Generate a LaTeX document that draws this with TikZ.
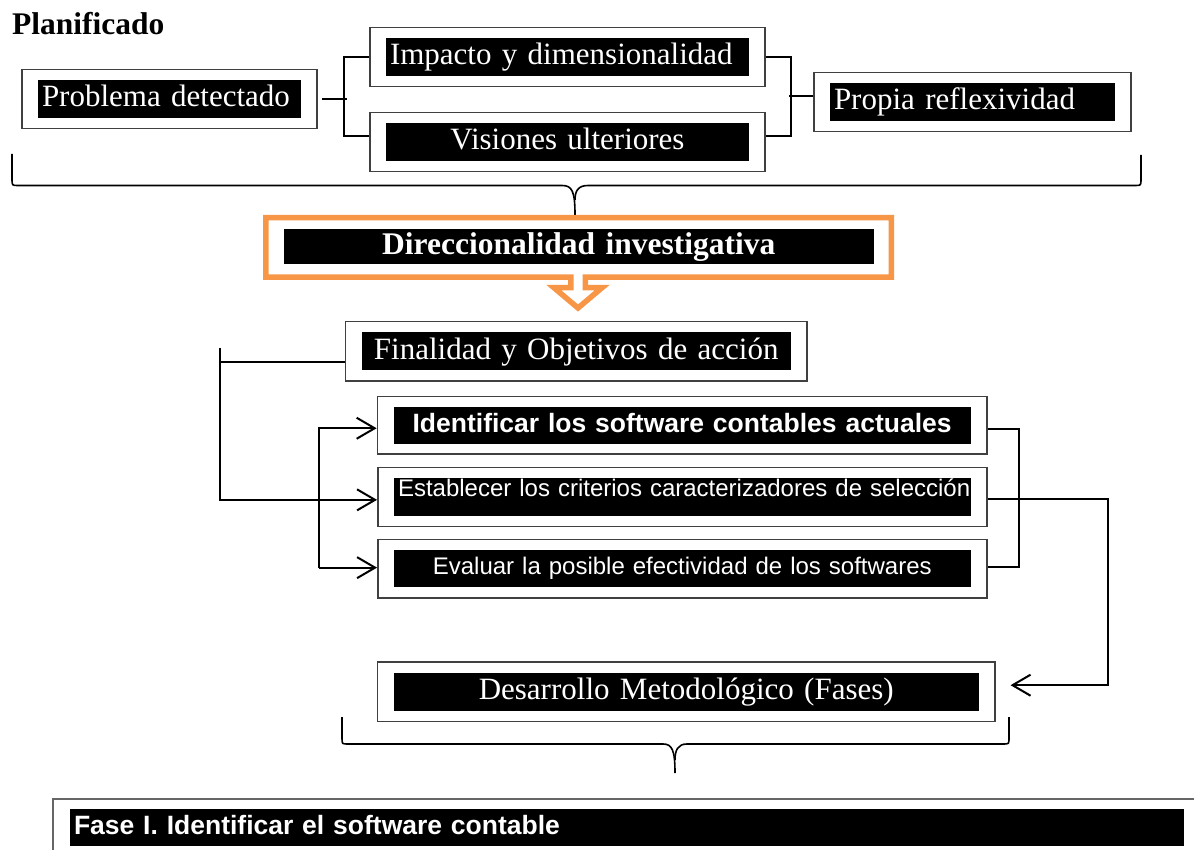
\documentclass[tikz,border=0pt]{standalone}
\usepackage{fontspec}
\setmainfont{Liberation Serif}
\setsansfont{Liberation Sans}
\usetikzlibrary{calc,fit,arrows.meta}
\definecolor{naranja}{HTML}{F79646}
\begin{document}
\begin{tikzpicture}[x=1pt,y=-1pt,
    caja/.style={fill=black,text=white,inner ysep=0pt,inner xsep=4pt},
    serif/.style={font=\fontsize{31}{37}\selectfont,text height=22pt,text depth=6pt},
    sans/.style={font=\sffamily\fontsize{24}{29}\selectfont,text height=17pt,text depth=5pt},
    sansb/.style={font=\sffamily\bfseries\fontsize{26.5}{32}\selectfont,text height=19pt,text depth=5.5pt},
    marco/.style={draw=black!75,line width=1.5pt,inner xsep=16pt,inner ysep=10.5pt},
    linea/.style={line width=2pt},
    flecha/.style={linea,-{Straight Barb[length=18pt,width=21pt]}},
    llave/.style={line width=1.6pt}]
  \useasboundingbox (0,0) rectangle (1194,850);
  \clip (0,0) rectangle (1194,850);
  \node[anchor=base west,inner sep=0pt,font=\bfseries\fontsize{31.5}{37}\selectfont] (titulo) at (12,35) {Planificado};
  \node[caja,serif,text width=255pt,align=left,minimum height=38pt] (pd) at (169.5,99) {Problema detectado};
  \node[caja,serif,text width=355pt,align=left,minimum height=38pt] (im) at (567.5,57) {Impacto y dimensionalidad};
  \node[caja,serif,text width=355pt,align=center,minimum height=38pt] (vu) at (567.5,142) {Visiones ulteriores};
  \node[caja,serif,text width=277pt,align=left,minimum height=38pt] (pr) at (972.5,102) {Propia reflexividad};
  \node[marco,fit=(pd)] (pdF) {};
  \node[marco,fit=(im)] (imF) {};
  \node[marco,fit=(vu)] (vuF) {};
  \node[marco,fit=(pr)] (prF) {};
  \draw[linea,shorten <=4pt] (pdF.east) -- ++(29,0);
  \draw[linea] (imF.west) -- ++(-25,0) |- ($(vuF.west)+(0,-6)$);
  \draw[linea] (imF.east) -- ++(25,0) |- ($(vuF.east)+(0,-6)$);
  \draw[linea] ($(prF.west)+(0,-6)$) -- ++(-24,0);
  \draw[llave] (12,154) -- (12,179) .. controls (12,185.5) .. (18,185.5) -- (562,185.5) .. controls (572,185.5) and (575,191) .. (575,215);
  \draw[llave] (1141,155) -- (1141,179) .. controls (1141,185.5) .. (1135,185.5) -- (588,185.5) .. controls (578,185.5) and (575,191) .. (575,200);
  \draw[naranja,line width=5.5pt] (265.75,217.75) -- (891.25,217.75) -- (891.25,277.25) -- (585.25,277.25) -- (585.25,287.75) -- (602,287.75) -- (578,308) -- (554,287.75) -- (570.75,287.75) -- (570.75,277.25) -- (265.75,277.25) -- cycle;
  \node[caja,font=\bfseries\fontsize{31.5}{37}\selectfont,text height=22pt,text depth=6pt,text width=582.5pt,align=center,minimum height=35pt] (dir) at (578.75,246.5) {Direccionalidad investigativa};
  \node[caja,serif,text width=421pt,align=center,minimum height=37.7pt] (fin) at (576.25,351.2) {Finalidad y Objetivos de acción};
  \node[caja,sansb,text width=569pt,align=center,minimum height=36.5pt] (id) at (682.1,425.25) {Identificar los software contables actuales};
  \node[caja,sans,text width=568.6pt,align=left,minimum height=37.7pt] (est) at (682.3,496.85) {\raisebox{6pt}{Establecer los criterios caracterizadores de selección}};
  \node[caja,sans,text width=568.6pt,align=center,minimum height=37.3pt] (eva) at (682.3,568.65) {Evaluar la posible efectividad de los softwares};
  \node[caja,serif,text width=576.7pt,align=center,minimum height=38pt] (des) at (686.25,691.7) {Desarrollo Metodológico (Fases)};
  \node[marco,fit=(fin)] (finF) {};
  \node[marco,fit=(id)] (idF) {};
  \node[marco,fit=(est)] (estF) {};
  \node[marco,fit=(eva)] (evaF) {};
  \node[marco,fit=(des)] (desF) {};
  \coordinate (ramal) at (220,348);
  \draw[linea] ($(finF.west)+(0,10.5)$) -- ++(-125.7,0);
  \draw[flecha] (ramal) |- ($(estF.west)+(0,3)$);
  \draw[flecha] ($(evaF.west)+(-57.6,-1)$) |- ($(idF.west)+(0,3)$);
  \draw[flecha] ($(evaF.west)+(-57.6,-1)$) -- ($(evaF.west)+(0,-1)$);
  \draw[linea] ($(idF.east)+(0,4)$) -- ++(31.5,0) |- ($(evaF.east)+(0,-2)$);
  \draw[flecha] ($(estF.east)+(0,2.5)$) -- ++(120.5,0) |- ($(desF.east)+(15,-6.5)$);
  \draw[llave] (342,717) -- (342,738) .. controls (342,744) .. (348,744) -- (663,744) .. controls (672,744) and (675,750) .. (675,773);
  \draw[llave] (1009,717) -- (1009,738) .. controls (1009,744) .. (1003,744) -- (687,744) .. controls (678,744) and (675,750) .. (675,760);
  \node[caja,sansb,text width=1106pt,align=left,minimum height=37pt] (fase) at (627,827.5) {Fase I. Identificar el software contable};
  \draw[draw=black!60,line width=1.5pt] ($(fase.south west)+(-17,40)$) |- ($(fase.north east)+(40,-10)$);
\end{tikzpicture}
\end{document}
